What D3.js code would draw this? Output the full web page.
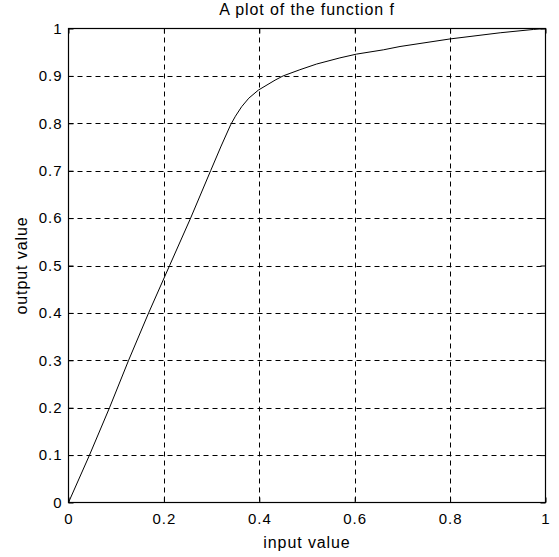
<!DOCTYPE html>
<html>
<head>
<meta charset="utf-8">
<script src="https://cdn.jsdelivr.net/npm/d3@7"></script>
<style>
  body { margin: 0; background: #fff; }
  text { font-family: "Liberation Sans", Arial, sans-serif; fill: #000; }
</style>
</head>
<body>
<svg width="559" height="557"></svg>
<script>
// values
const xs = [0, 0.044, 0.086, 0.126, 0.168, 0.212, 0.256, 0.298, 0.320, 0.340, 0.350, 0.363, 0.378, 0.398,
            0.433, 0.450, 0.485, 0.520, 0.569, 0.604, 0.66, 0.695, 0.8, 0.905, 0.975, 1];
const ys = [0, 0.1, 0.2, 0.3, 0.4, 0.5, 0.6, 0.7, 0.752, 0.797, 0.815, 0.835, 0.853, 0.870,
            0.891, 0.9, 0.913, 0.925, 0.938, 0.946, 0.955, 0.962, 0.978, 0.991, 0.998, 1];
const xTicks = [0, 0.2, 0.4, 0.6, 0.8, 1];
const yTicks = [0, 0.1, 0.2, 0.3, 0.4, 0.5, 0.6, 0.7, 0.8, 0.9, 1];

const svg = d3.select("svg")
const pLeft = 68.5, pRight = 545.5, pTop = 28.5, pBottom = 502.5

const x = d3.scaleLinear().domain([0, 1]).range([pLeft, pRight])
const y = d3.scaleLinear().domain([0, 1]).range([pBottom, pTop])

// grid
svg.append("g")
    .selectAll("line")
    .data(xTicks.slice(1, -1))
    .enter().append("line")
    .attr("x1", d => Math.round(x(d)) + 0.5).attr("x2", d => Math.round(x(d)) + 0.5)
    .attr("y1", pTop).attr("y2", pBottom)
    .attr("stroke", "#000").attr("stroke-dasharray", "5,4");

svg.append("g")
    .selectAll("line")
    .data(yTicks.slice(1, -1))
    .enter().append("line")
    .attr("y1", d => Math.round(y(d)) + 0.5).attr("y2", d => Math.round(y(d)) + 0.5)
    .attr("x1", pLeft).attr("x2", pRight)
    .attr("stroke", "#000").attr("stroke-dasharray", "5,4");

// axes, ticks pointing inward
const xAxis = svg.append("g")
    .attr("transform", `translate(0,${pBottom})`)
    .call(d3.axisBottom(x).tickValues(xTicks).tickFormat(d3.format("")).tickSizeInner(-5).tickSizeOuter(0).tickPadding(11))
xAxis.select(".domain").remove()
xAxis.selectAll("text").style("font-size", "15px").style("letter-spacing", "1px")

const xTop = svg.append("g")
    .attr("transform", `translate(0,${pTop})`)
    .call(d3.axisTop(x).tickValues(xTicks).tickFormat("").tickSizeInner(-5).tickSizeOuter(0))
xTop.select(".domain").remove()

const yAxis = svg.append("g")
    .attr("transform", `translate(${pLeft},0)`)
    .call(d3.axisLeft(y).tickValues(yTicks).tickFormat(d3.format("")).tickSizeInner(-5).tickSizeOuter(0).tickPadding(6))
yAxis.select(".domain").remove()
yAxis.selectAll("text").style("font-size", "15px").style("letter-spacing", "1px")

const yRight = svg.append("g")
    .attr("transform", `translate(${pRight},0)`)
    .call(d3.axisRight(y).tickValues(yTicks).tickFormat("").tickSizeInner(-5).tickSizeOuter(0))
yRight.select(".domain").remove()

// box
svg.append("rect")
    .attr("x", pLeft).attr("y", pTop)
    .attr("width", pRight - pLeft).attr("height", pBottom - pTop)
    .attr("fill", "none").attr("stroke", "#000").attr("stroke-width", 1.2);

// curve
const pts = xs.map((d, i) => [d, ys[i]])
svg.append("path")
    .datum(pts)
    .attr("fill", "none")
    .attr("stroke", "#000")
    .attr("stroke-width", 1)
    .attr("d", d3.line().x(d => x(d[0])).y(d => y(d[1])));

// labels
svg.append("text")
    .attr("x", (pLeft + pRight) / 2).attr("y", 15)
    .attr("text-anchor", "middle").style("font-size", "16px").style("letter-spacing", "0.9px")
    .text("A plot of the function f");

svg.append("text")
    .attr("x", (pLeft + pRight) / 2).attr("y", 548)
    .attr("text-anchor", "middle").style("font-size", "16px").style("letter-spacing", "0.9px")
    .text("input value");

svg.append("text")
    .attr("transform", `translate(27,${(pTop + pBottom) / 2}) rotate(-90)`)
    .attr("text-anchor", "middle").style("font-size", "16px").style("letter-spacing", "0.9px")
    .text("output value");
</script>
</body>
</html>
